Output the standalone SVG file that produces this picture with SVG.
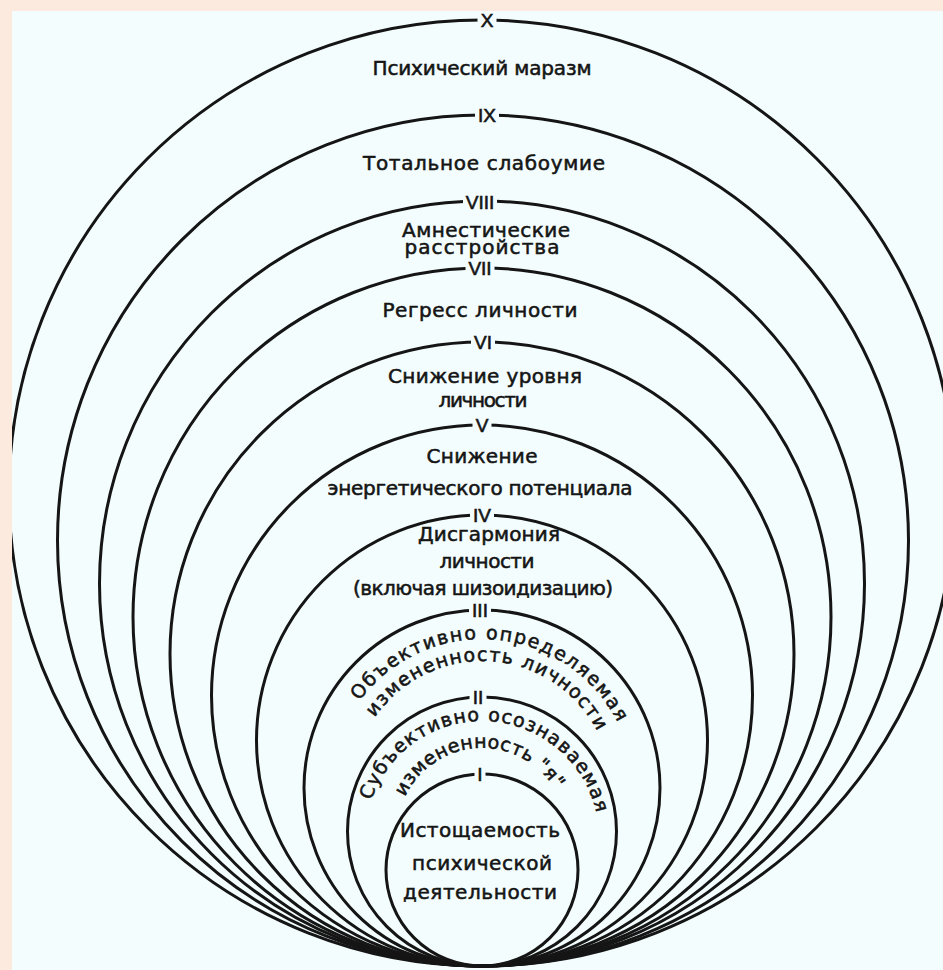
<svg xmlns="http://www.w3.org/2000/svg" width="943" height="970" viewBox="0 0 943 970">
<defs>
<clipPath id="panel"><rect x="12" y="11" width="931" height="959"/></clipPath>
<path id="arc3a" d="M 330 791 A 152 152 0 0 1 634 791"/>
<path id="arc3b" d="M 352 791 A 130 130 0 0 1 612 791"/>
<path id="arc2a" d="M 365 838 A 117 117 0 0 1 599 838"/>
<path id="arc2b" d="M 397 833 A 85 85 0 0 1 567 833"/>
</defs>
<style>
.ring{fill:none;stroke:#151515;stroke-width:3}
.lbl{font-family:"DejaVu Sans","Liberation Sans",sans-serif;font-size:20px;fill:#151515;stroke:#151515;stroke-width:0.55;text-anchor:middle}
.cl{font-family:"DejaVu Sans","Liberation Sans",sans-serif;font-size:19px;fill:#151515;stroke:#151515;stroke-width:0.55}
.num{font-family:"Liberation Sans",sans-serif;font-size:19px;fill:#151515;stroke:#151515;stroke-width:0.6;text-anchor:middle}
.gap{fill:#f3fdfd}
</style>
<rect width="943" height="970" fill="#fdeadf"/>
<rect x="12" y="11" width="931" height="959" fill="#f3fdfd"/>
<g clip-path="url(#panel)">
<g id="zone-X">
<circle class="ring" cx="482" cy="493" r="473"/>
<rect class="gap" x="477.5" y="16" width="19" height="8"/>
<text class="num" x="487" y="27">X</text>
<text class="lbl" x="482" y="75" textLength="219">Психический маразм</text>
</g>
<g id="zone-IX">
<circle class="ring" cx="483" cy="540.5" r="425.5"/>
<rect class="gap" x="475" y="111" width="24" height="8"/>
<text class="num" x="487" y="122">IX</text>
<text class="lbl" x="484" y="170" textLength="242">Тотальное слабоумие</text>
</g>
<g id="zone-VIII">
<circle class="ring" cx="482" cy="583.5" r="382.5"/>
<rect class="gap" x="463" y="198" width="34" height="8"/>
<text class="num" x="480" y="209">VIII</text>
<text class="lbl" x="486" y="237" textLength="168">Амнестические</text>
<text class="lbl" x="482" y="254" textLength="155">расстройства</text>
</g>
<g id="zone-VII">
<circle class="ring" cx="482" cy="617" r="349"/>
<rect class="gap" x="465.5" y="264" width="29" height="8"/>
<text class="num" x="480" y="275">VII</text>
<text class="lbl" x="480" y="317" textLength="195">Регресс личности</text>
</g>
<g id="zone-VI">
<circle class="ring" cx="482" cy="654" r="312"/>
<rect class="gap" x="471" y="338" width="24" height="8"/>
<text class="num" x="483" y="349">VI</text>
<text class="lbl" x="485" y="383" textLength="194">Снижение уровня</text>
<text class="lbl" x="483" y="407" textLength="89">личности</text>
</g>
<g id="zone-V">
<circle class="ring" cx="482" cy="695.5" r="270.5"/>
<rect class="gap" x="472.5" y="421" width="19" height="8"/>
<text class="num" x="482" y="432">V</text>
<text class="lbl" x="482" y="463" textLength="111">Снижение</text>
<text class="lbl" x="480" y="495" textLength="305">энергетического потенциала</text>
</g>
<g id="zone-IV">
<circle class="ring" cx="482" cy="740.5" r="225.5"/>
<rect class="gap" x="470" y="511" width="24" height="8"/>
<text class="num" x="482" y="522">IV</text>
<text class="lbl" x="489" y="541" textLength="142">Дисгармония</text>
<text class="lbl" x="487" y="568" textLength="95">личности</text>
<text class="lbl" x="483" y="595" textLength="260">(включая шизоидизацию)</text>
</g>
<g id="zone-III">
<circle class="ring" cx="482" cy="788" r="178"/>
<rect class="gap" x="469" y="606" width="22" height="8"/>
<text class="num" x="480" y="617">III</text>
<text class="cl"><textPath href="#arc3a" startOffset="251" text-anchor="middle" textLength="310">Объективно определяемая</textPath></text>
<text class="cl"><textPath href="#arc3b" startOffset="212" text-anchor="middle" textLength="268">измененность личности</textPath></text>
</g>
<g id="zone-II">
<circle class="ring" cx="482" cy="831.5" r="134.5"/>
<rect class="gap" x="469.5" y="693" width="17" height="8"/>
<text class="num" x="478" y="704">II</text>
<text class="cl"><textPath href="#arc2a" startOffset="190" text-anchor="middle" textLength="304">Субъективно осознаваемая</textPath></text>
<text class="cl"><textPath href="#arc2b" startOffset="129" text-anchor="middle" textLength="184">измененность "я"</textPath></text>
</g>
<g id="zone-I">
<circle class="ring" cx="482" cy="870" r="96"/>
<rect class="gap" x="474.5" y="770" width="11" height="8"/>
<text class="num" x="480" y="781">I</text>
<text class="lbl" x="480" y="837" textLength="160">Истощаемость</text>
<text class="lbl" x="482" y="870" textLength="140">психической</text>
<text class="lbl" x="480" y="899" textLength="154">деятельности</text>
</g>
</g>
<g id="connectors"/>
</svg>
